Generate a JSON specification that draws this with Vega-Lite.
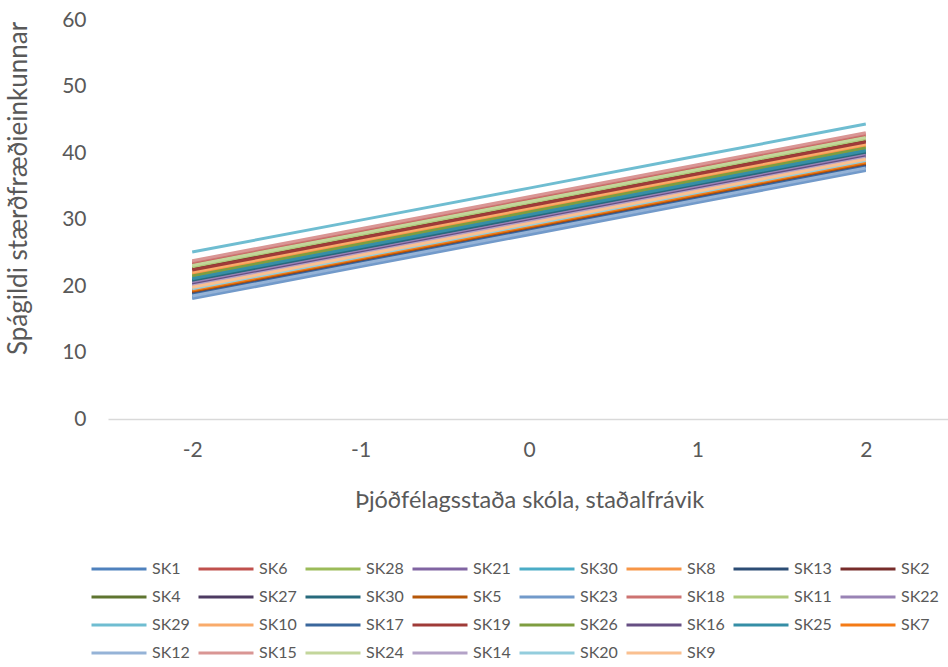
{
  "$schema": "https://vega.github.io/schema/vega-lite/v6.json",
  "width": 842,
  "height": 399,
  "autosize": {"type": "none"},
  "padding": {"left": 108, "top": 20, "right": 0, "bottom": 248},
  "background": "white",
  "config": {
    "view": {"stroke": null},
    "font": "Lato",
    "axis": {"labelColor": "#595959", "titleColor": "#595959", "titleFontWeight": "normal", "labelFont": "Lato", "titleFont": "Lato"},
    "legend": {"labelColor": "#595959", "labelFont": "Lato"}
  },
  "data": {"values": [
    {"s":"01|SK1","x":"-2","y":18.3},{"s":"01|SK1","x":"-1","y":23.11},{"s":"01|SK1","x":"0","y":27.92},{"s":"01|SK1","x":"1","y":32.74},{"s":"01|SK1","x":"2","y":37.55},
    {"s":"02|SK6","x":"-2","y":23.3},{"s":"02|SK6","x":"-1","y":28.11},{"s":"02|SK6","x":"0","y":32.92},{"s":"02|SK6","x":"1","y":37.74},{"s":"02|SK6","x":"2","y":42.55},
    {"s":"03|SK28","x":"-2","y":21.7},{"s":"03|SK28","x":"-1","y":26.51},{"s":"03|SK28","x":"0","y":31.32},{"s":"03|SK28","x":"1","y":36.14},{"s":"03|SK28","x":"2","y":40.95},
    {"s":"04|SK21","x":"-2","y":20.6},{"s":"04|SK21","x":"-1","y":25.41},{"s":"04|SK21","x":"0","y":30.22},{"s":"04|SK21","x":"1","y":35.04},{"s":"04|SK21","x":"2","y":39.85},
    {"s":"05|SK30","x":"-2","y":21.3},{"s":"05|SK30","x":"-1","y":26.11},{"s":"05|SK30","x":"0","y":30.92},{"s":"05|SK30","x":"1","y":35.74},{"s":"05|SK30","x":"2","y":40.55},
    {"s":"06|SK8","x":"-2","y":21.9},{"s":"06|SK8","x":"-1","y":26.71},{"s":"06|SK8","x":"0","y":31.52},{"s":"06|SK8","x":"1","y":36.34},{"s":"06|SK8","x":"2","y":41.15},
    {"s":"07|SK13","x":"-2","y":18.9},{"s":"07|SK13","x":"-1","y":23.71},{"s":"07|SK13","x":"0","y":28.52},{"s":"07|SK13","x":"1","y":33.34},{"s":"07|SK13","x":"2","y":38.15},
    {"s":"08|SK2","x":"-2","y":22.6},{"s":"08|SK2","x":"-1","y":27.41},{"s":"08|SK2","x":"0","y":32.22},{"s":"08|SK2","x":"1","y":37.04},{"s":"08|SK2","x":"2","y":41.85},
    {"s":"09|SK4","x":"-2","y":20.9},{"s":"09|SK4","x":"-1","y":25.71},{"s":"09|SK4","x":"0","y":30.52},{"s":"09|SK4","x":"1","y":35.34},{"s":"09|SK4","x":"2","y":40.15},
    {"s":"10|SK27","x":"-2","y":19.0},{"s":"10|SK27","x":"-1","y":23.81},{"s":"10|SK27","x":"0","y":28.62},{"s":"10|SK27","x":"1","y":33.44},{"s":"10|SK27","x":"2","y":38.25},
    {"s":"11|SK30","x":"-2","y":20.8},{"s":"11|SK30","x":"-1","y":25.61},{"s":"11|SK30","x":"0","y":30.42},{"s":"11|SK30","x":"1","y":35.24},{"s":"11|SK30","x":"2","y":40.05},
    {"s":"12|SK5","x":"-2","y":19.2},{"s":"12|SK5","x":"-1","y":24.01},{"s":"12|SK5","x":"0","y":28.82},{"s":"12|SK5","x":"1","y":33.64},{"s":"12|SK5","x":"2","y":38.45},
    {"s":"13|SK23","x":"-2","y":18.1},{"s":"13|SK23","x":"-1","y":22.91},{"s":"13|SK23","x":"0","y":27.72},{"s":"13|SK23","x":"1","y":32.54},{"s":"13|SK23","x":"2","y":37.35},
    {"s":"14|SK18","x":"-2","y":23.6},{"s":"14|SK18","x":"-1","y":28.41},{"s":"14|SK18","x":"0","y":33.22},{"s":"14|SK18","x":"1","y":38.04},{"s":"14|SK18","x":"2","y":42.85},
    {"s":"15|SK11","x":"-2","y":22.9},{"s":"15|SK11","x":"-1","y":27.71},{"s":"15|SK11","x":"0","y":32.52},{"s":"15|SK11","x":"1","y":37.34},{"s":"15|SK11","x":"2","y":42.15},
    {"s":"16|SK22","x":"-2","y":20.4},{"s":"16|SK22","x":"-1","y":25.21},{"s":"16|SK22","x":"0","y":30.02},{"s":"16|SK22","x":"1","y":34.84},{"s":"16|SK22","x":"2","y":39.65},
    {"s":"17|SK29","x":"-2","y":25.1},{"s":"17|SK29","x":"-1","y":29.91},{"s":"17|SK29","x":"0","y":34.72},{"s":"17|SK29","x":"1","y":39.54},{"s":"17|SK29","x":"2","y":44.35},
    {"s":"18|SK10","x":"-2","y":22.1},{"s":"18|SK10","x":"-1","y":26.91},{"s":"18|SK10","x":"0","y":31.72},{"s":"18|SK10","x":"1","y":36.54},{"s":"18|SK10","x":"2","y":41.35},
    {"s":"19|SK17","x":"-2","y":18.7},{"s":"19|SK17","x":"-1","y":23.51},{"s":"19|SK17","x":"0","y":28.32},{"s":"19|SK17","x":"1","y":33.14},{"s":"19|SK17","x":"2","y":37.95},
    {"s":"20|SK19","x":"-2","y":22.4},{"s":"20|SK19","x":"-1","y":27.21},{"s":"20|SK19","x":"0","y":32.02},{"s":"20|SK19","x":"1","y":36.84},{"s":"20|SK19","x":"2","y":41.65},
    {"s":"21|SK26","x":"-2","y":21.5},{"s":"21|SK26","x":"-1","y":26.31},{"s":"21|SK26","x":"0","y":31.12},{"s":"21|SK26","x":"1","y":35.94},{"s":"21|SK26","x":"2","y":40.75},
    {"s":"22|SK16","x":"-2","y":20.2},{"s":"22|SK16","x":"-1","y":25.01},{"s":"22|SK16","x":"0","y":29.82},{"s":"22|SK16","x":"1","y":34.64},{"s":"22|SK16","x":"2","y":39.45},
    {"s":"23|SK25","x":"-2","y":21.1},{"s":"23|SK25","x":"-1","y":25.91},{"s":"23|SK25","x":"0","y":30.72},{"s":"23|SK25","x":"1","y":35.54},{"s":"23|SK25","x":"2","y":40.35},
    {"s":"24|SK7","x":"-2","y":19.4},{"s":"24|SK7","x":"-1","y":24.21},{"s":"24|SK7","x":"0","y":29.02},{"s":"24|SK7","x":"1","y":33.84},{"s":"24|SK7","x":"2","y":38.65},
    {"s":"25|SK12","x":"-2","y":18.5},{"s":"25|SK12","x":"-1","y":23.31},{"s":"25|SK12","x":"0","y":28.12},{"s":"25|SK12","x":"1","y":32.94},{"s":"25|SK12","x":"2","y":37.75},
    {"s":"26|SK15","x":"-2","y":23.8},{"s":"26|SK15","x":"-1","y":28.61},{"s":"26|SK15","x":"0","y":33.42},{"s":"26|SK15","x":"1","y":38.24},{"s":"26|SK15","x":"2","y":43.05},
    {"s":"27|SK24","x":"-2","y":23.1},{"s":"27|SK24","x":"-1","y":27.91},{"s":"27|SK24","x":"0","y":32.72},{"s":"27|SK24","x":"1","y":37.54},{"s":"27|SK24","x":"2","y":42.35},
    {"s":"28|SK14","x":"-2","y":20.0},{"s":"28|SK14","x":"-1","y":24.81},{"s":"28|SK14","x":"0","y":29.62},{"s":"28|SK14","x":"1","y":34.44},{"s":"28|SK14","x":"2","y":39.25},
    {"s":"29|SK20","x":"-2","y":19.6},{"s":"29|SK20","x":"-1","y":24.41},{"s":"29|SK20","x":"0","y":29.22},{"s":"29|SK20","x":"1","y":34.04},{"s":"29|SK20","x":"2","y":38.85},
    {"s":"30|SK9","x":"-2","y":19.8},{"s":"30|SK9","x":"-1","y":24.61},{"s":"30|SK9","x":"0","y":29.42},{"s":"30|SK9","x":"1","y":34.24},{"s":"30|SK9","x":"2","y":39.05}
  ]},
  "mark": {"type": "line", "strokeWidth": 3},
  "encoding": {
    "x": {
      "field": "x", "type": "ordinal", "sort": ["-2","-1","0","1","2"],
      "scale": {"type": "point", "padding": 0.5},
      "axis": {
        "title": "Þjóðfélagsstaða skóla, staðalfrávik",
        "labelAngle": 0, "ticks": false, "domainColor": "#D9D9D9", "domainWidth": 1.5,
        "labelFontSize": 21, "labelPadding": 20, "titleFontSize": 23.5, "titlePadding": 28
      }
    },
    "y": {
      "field": "y", "type": "quantitative",
      "scale": {"domain": [0, 60], "nice": false},
      "axis": {
        "title": "Spágildi stærðfræðieinkunnar",
        "values": [0,10,20,30,40,50,60], "grid": false, "domain": false, "ticks": false,
        "labelFontSize": 21, "labelPadding": 22, "titleFontSize": 26, "titleX": -77, "titleY": 168
      }
    },
    "color": {
      "field": "s", "type": "nominal",
      "scale": {
        "domain": ["01|SK1","02|SK6","03|SK28","04|SK21","05|SK30","06|SK8","07|SK13","08|SK2","09|SK4","10|SK27","11|SK30","12|SK5","13|SK23","14|SK18","15|SK11","16|SK22","17|SK29","18|SK10","19|SK17","20|SK19","21|SK26","22|SK16","23|SK25","24|SK7","25|SK12","26|SK15","27|SK24","28|SK14","29|SK20","30|SK9"],
        "range": ["#4F81BD","#C0504D","#9BBB59","#8064A2","#4BACC6","#F79646","#2C4D75","#772C2A","#5F7530","#4D3B62","#276A7C","#B65708","#729ACA","#CD7371","#AFC97A","#9983B5","#6FBDD1","#F9AB6B","#3A679C","#9F3B38","#7E9D40","#664F83","#358EA6","#F47B16","#95B3D7","#D99694","#C3D69B","#B3A2C7","#93CDDD","#FAC090"]
      },
      "legend": {
        "title": null, "orient": "none", "legendX": 3, "legendY": 541,
        "direction": "horizontal", "columns": 8, "gridAlign": "all",
        "symbolType": "M-10,0H10", "symbolSize": 30.25, "symbolStrokeWidth": 3,
        "labelFontSize": 16, "labelOffset": 25, "columnPadding": 2, "rowPadding": 12,
        "labelExpr": "split(datum.value, '|')[1]"
      }
    }
  }
}
